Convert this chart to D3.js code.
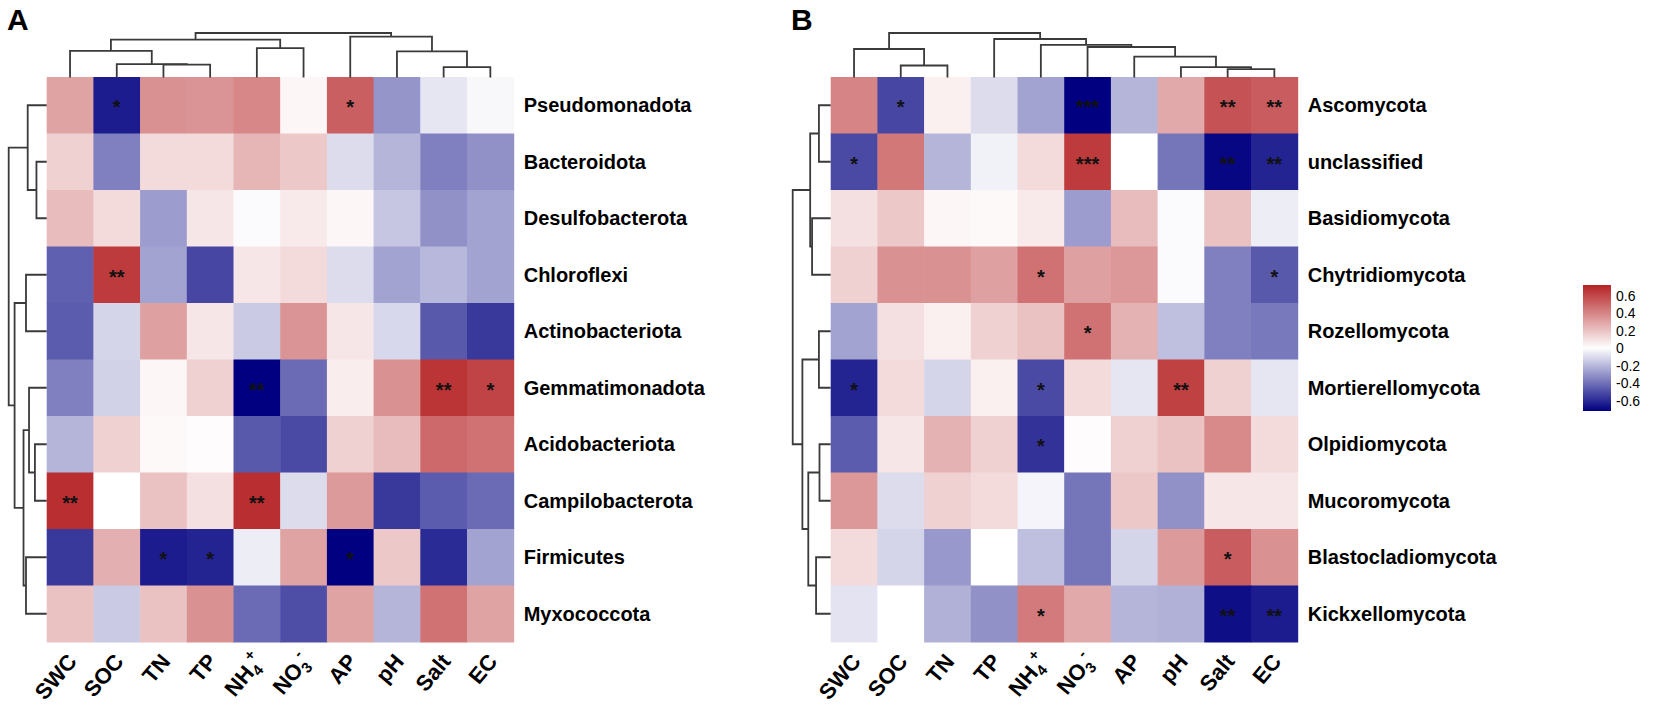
<!DOCTYPE html>
<html>
<head>
<meta charset="utf-8">
<script src="https://cdn.jsdelivr.net/npm/d3@7"></script>
<style>
body { margin: 0; background: #fff; }
text { font-family: "Liberation Sans", Arial, sans-serif; }
</style>
</head>
<body>
<svg id="chart" width="1655" height="722"></svg>
<script>
// soil factors (columns), same order in both panels
var factors = ["SWC", "SOC", "TN", "TP", "NH4+", "NO3-", "AP", "pH", "Salt", "EC"];
var factor_parts = {
    "NH4+": ["NH", "4", "+"],
    "NO3-": ["NO", "3", "-"]
};

// panel A - bacterial phyla
var bacteria = ["Pseudomonadota", "Bacteroidota", "Desulfobacterota", "Chloroflexi", "Actinobacteriota",
    "Gemmatimonadota", "Acidobacteriota", "Campilobacterota", "Firmicutes", "Myxococcota"];
var bacteria_r = [
    [0.30, -0.64, 0.36, 0.35, 0.39, 0.03, 0.52, -0.30, -0.07, -0.02],
    [0.15, -0.36, 0.12, 0.12, 0.24, 0.18, -0.10, -0.21, -0.36, -0.31],
    [0.22, 0.12, -0.28, 0.08, -0.01, 0.07, 0.03, -0.16, -0.31, -0.26],
    [-0.45, 0.64, -0.26, -0.52, 0.08, 0.12, -0.10, -0.26, -0.20, -0.26],
    [-0.46, -0.12, 0.31, 0.08, -0.15, 0.35, 0.08, -0.11, -0.47, -0.56],
    [-0.36, -0.13, 0.03, 0.15, -0.72, -0.42, 0.06, 0.36, 0.66, 0.61],
    [-0.21, 0.15, 0.02, 0.01, -0.47, -0.51, 0.15, 0.22, 0.49, 0.46],
    [0.68, 0.00, 0.20, 0.10, 0.68, -0.10, 0.33, -0.56, -0.46, -0.42],
    [-0.56, 0.26, -0.64, -0.62, -0.05, 0.30, -0.72, 0.18, -0.60, -0.26],
    [0.20, -0.15, 0.20, 0.36, -0.42, -0.50, 0.30, -0.21, 0.46, 0.30]
];
var bacteria_sig = [
    ["", "*", "", "", "", "", "*", "", "", ""],
    ["", "", "", "", "", "", "", "", "", ""],
    ["", "", "", "", "", "", "", "", "", ""],
    ["", "**", "", "", "", "", "", "", "", ""],
    ["", "", "", "", "", "", "", "", "", ""],
    ["", "", "", "", "**", "", "", "", "**", "*"],
    ["", "", "", "", "", "", "", "", "", ""],
    ["**", "", "", "", "**", "", "", "", "", ""],
    ["", "", "*", "*", "", "", "*", "", "", ""],
    ["", "", "", "", "", "", "", "", "", ""]
];
var bacteria_col_merge = [
    [-3, -4, 0.29], [-2, 1, 0.30], [-1, 2, 0.60], [-5, -6, 0.66], [3, 4, 0.85],
    [-9, -10, 0.235], [-8, 6, 0.585], [-7, 7, 0.92], [5, 8, 1.0]
];
var bacteria_row_merge = [
    [-2, -3, 0.27], [-1, 1, 0.50], [-4, -5, 0.545], [-7, -8, 0.31], [-6, 4, 0.465],
    [-9, -10, 0.545], [5, 6, 0.61], [3, 7, 0.845], [2, 8, 1.0]
];

// panel B - fungal phyla
var fungi = ["Ascomycota", "unclassified", "Basidiomycota", "Chytridiomycota", "Rozellomycota",
    "Mortierellomycota", "Olpidiomycota", "Mucoromycota", "Blastocladiomycota", "Kickxellomycota"];
var fungi_r = [
    [0.40, -0.52, 0.05, -0.10, -0.26, -0.72, -0.21, 0.28, 0.56, 0.53],
    [-0.51, 0.44, -0.21, -0.04, 0.12, 0.64, 0.00, -0.39, -0.70, -0.62],
    [0.10, 0.18, 0.03, 0.02, 0.07, -0.28, 0.22, -0.01, 0.20, -0.05],
    [0.15, 0.36, 0.36, 0.31, 0.46, 0.31, 0.34, -0.01, -0.36, -0.47],
    [-0.26, 0.10, 0.05, 0.15, 0.20, 0.46, 0.25, -0.18, -0.36, -0.38],
    [-0.62, 0.12, -0.12, 0.05, -0.51, 0.12, -0.07, 0.62, 0.15, -0.07],
    [-0.46, 0.08, 0.25, 0.15, -0.58, 0.01, 0.15, 0.20, 0.38, 0.12],
    [0.34, -0.10, 0.15, 0.12, -0.03, -0.39, 0.18, -0.31, 0.08, 0.08],
    [0.12, -0.12, -0.29, 0.00, -0.18, -0.39, -0.12, 0.33, 0.53, 0.36],
    [-0.08, 0.00, -0.22, -0.31, 0.43, 0.28, -0.21, -0.22, -0.68, -0.64]
];
var fungi_sig = [
    ["", "*", "", "", "", "***", "", "", "**", "**"],
    ["*", "", "", "", "", "***", "", "", "**", "**"],
    ["", "", "", "", "", "", "", "", "", ""],
    ["", "", "", "", "*", "", "", "", "", "*"],
    ["", "", "", "", "", "*", "", "", "", ""],
    ["*", "", "", "", "*", "", "", "**", "", ""],
    ["", "", "", "", "*", "", "", "", "", ""],
    ["", "", "", "", "", "", "", "", "", ""],
    ["", "", "", "", "", "", "", "", "*", ""],
    ["", "", "", "", "*", "", "", "", "**", "**"]
];
var fungi_col_merge = [
    [-2, -3, 0.27], [-1, 1, 0.64], [-9, -10, 0.19], [-8, 3, 0.235], [-7, 4, 0.47],
    [-6, 5, 0.685], [-5, 6, 0.735], [-4, 7, 0.865], [2, 8, 1.0]
];
var fungi_row_merge = [
    [-1, -2, 0.31], [-3, -4, 0.49], [1, 2, 0.54], [-5, -6, 0.31], [-7, -8, 0.295],
    [-9, -10, 0.385], [5, 6, 0.59], [4, 7, 0.745], [3, 8, 1.0]
];

var legend_ticks = [0.6, 0.4, 0.2, 0, -0.2, -0.4, -0.6];
var legend_labels = ["0.6", "0.4", "0.2", "0", "-0.2", "-0.4", "-0.6"];

var svg = d3.select("#chart");

var colour = d3.scaleLinear()
    .domain([-0.72, 0, 0.72])
    .range(["#000080", "#ffffff", "#b52224"])
    .clamp(true);

var line_colour = "#3a3a3a";

function draw_panel(letter, letter_x, x0, rows, values, sig, col_merge, row_merge) {
    var g = svg.append("g");
    var x = d3.scaleBand().domain(factors).range([x0, x0 + 467]);
    var y = d3.scaleBand().domain(rows).range([77, 642]);

    g.append("text")
        .text(letter)
        .attr("x", letter_x)
        .attr("y", 30)
        .style("font-size", "30px")
        .style("font-weight", "bold");

    var cells = [];
    rows.forEach(function(r, i) {
        factors.forEach(function(f, j) {
            cells.push({ row: r, col: f, v: values[i][j], s: sig[i][j] });
        });
    });

    g.selectAll(".cell")
        .data(cells)
        .enter()
        .append("rect")
        .attr("x", function(d) { return x(d.col); })
        .attr("y", function(d) { return y(d.row); })
        .attr("width", x.bandwidth() + 0.5)
        .attr("height", y.bandwidth() + 0.5)
        .attr("fill", function(d) { return colour(d.v); });

    g.selectAll(".star")
        .data(cells.filter(function(d) { return d.s != ""; }))
        .enter()
        .append("text")
        .text(function(d) { return d.s; })
        .attr("x", function(d) { return x(d.col) + x.bandwidth() / 2; })
        .attr("y", function(d) { return y(d.row) + y.bandwidth() / 2 + 9; })
        .attr("text-anchor", "middle")
        .style("font-size", "20px")
        .style("font-weight", "bold")
        .style("fill", "#111");

    // row labels
    g.selectAll(".rowlab")
        .data(rows)
        .enter()
        .append("text")
        .text(function(d) { return d; })
        .attr("x", x0 + 467 + 10)
        .attr("y", function(d) { return y(d) + y.bandwidth() / 2; })
        .attr("dominant-baseline", "central")
        .style("font-size", "20px")
        .style("font-weight", "bold");

    // column labels
    var labs = g.selectAll(".collab")
        .data(factors)
        .enter()
        .append("text")
        .attr("transform", function(d) {
            return "translate(" + (x(d) + x.bandwidth() / 2 + 8) + ",662) rotate(-50)";
        })
        .attr("text-anchor", "end")
        .style("font-size", "22px")
        .style("font-weight", "bold");

    labs.each(function(d) {
        var t = d3.select(this);
        var parts = factor_parts[d];
        if (!parts) { t.text(d); return; }
        t.append("tspan").text(parts[0]);
        t.append("tspan").text(parts[1]).attr("dy", 5).style("font-size", "15px");
        t.append("tspan").text(parts[2]).attr("dx", -2).attr("dy", -16).style("font-size", "15px");
    });

    // column dendrogram
    var hy = d3.scaleLinear().domain([0, 1]).range([77.5, 33]);
    draw_tree(g, col_merge, function(i) { return x(factors[i]) + x.bandwidth() / 2; },
        function(p, h) { return [p, hy(h)]; });

    // row dendrogram
    var hx = d3.scaleLinear().domain([0, 1]).range([x0, x0 - 38]);
    draw_tree(g, row_merge, function(i) { return y(rows[i]) + y.bandwidth() / 2; },
        function(p, h) { return [hx(h), p]; });
}

function draw_tree(g, merge, leaf_pos, to_xy) {
    var nodes = [];
    function get(k) {
        if (k < 0) return { p: leaf_pos(-k - 1), h: 0 };
        return nodes[k - 1];
    }
    var segs = [];
    merge.forEach(function(m) {
        var a = get(m[0]), b = get(m[1]);
        segs.push([to_xy(a.p, a.h), to_xy(a.p, m[2]), to_xy(b.p, m[2]), to_xy(b.p, b.h)]);
        nodes.push({ p: (a.p + b.p) / 2, h: m[2] });
    });
    g.selectAll(null)
        .data(segs)
        .enter()
        .append("path")
        .attr("d", d3.line())
        .attr("fill", "none")
        .attr("stroke", line_colour)
        .attr("stroke-width", 1.8);
}

function create_legend() {
    var ly = d3.scaleLinear().domain([-0.72, 0.72]).range([411, 285]);
    var defs = svg.append("defs");
    var grad = defs.append("linearGradient")
        .attr("id", "grad")
        .attr("x1", 0).attr("y1", 1).attr("x2", 0).attr("y2", 0);
    colour.domain().forEach(function(v) {
        grad.append("stop")
            .attr("offset", (v + 0.72) / 1.44)
            .attr("stop-color", colour(v));
    });

    svg.append("rect")
        .attr("x", 1583)
        .attr("y", ly(0.72))
        .attr("width", 28)
        .attr("height", ly(-0.72) - ly(0.72))
        .attr("fill", "url(#grad)");

    svg.selectAll(".legtick")
        .data(legend_ticks)
        .enter()
        .append("text")
        .text(function(d, i) { return legend_labels[i]; })
        .attr("x", 1616)
        .attr("y", function(d) { return ly(d); })
        .attr("dominant-baseline", "central")
        .style("font-size", "14px");
}

draw_panel("A", 7, 46.7, bacteria, bacteria_r, bacteria_sig, bacteria_col_merge, bacteria_row_merge);
draw_panel("B", 791, 830.7, fungi, fungi_r, fungi_sig, fungi_col_merge, fungi_row_merge);
create_legend();
</script>
</body>
</html>
